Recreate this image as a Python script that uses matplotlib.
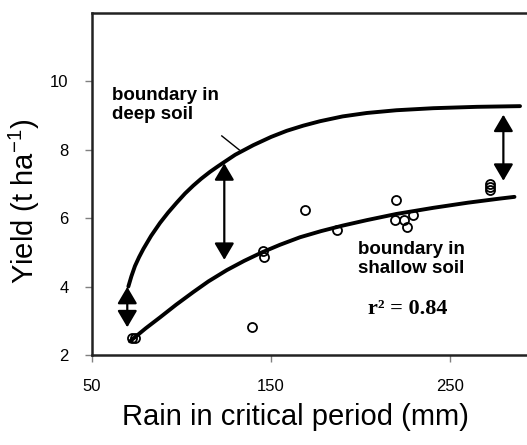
import matplotlib
matplotlib.use("Agg")
import matplotlib.pyplot as plt
from matplotlib.patches import FancyArrowPatch

plt.rcParams['font.family'] = ['Liberation Sans', 'DejaVu Sans']
plt.rcParams['mathtext.fontset'] = 'custom'
plt.rcParams['mathtext.rm'] = 'Liberation Sans'

# boundary curves
deep_x = [70.3, 72, 74, 76.3, 78.7, 83, 88, 92.5, 97.3, 102, 106.6, 111, 115.9, 120, 123.4, 130, 140.1,
          150, 158.8, 168, 177.4, 190, 203.5, 220, 240.7, 265, 289.1]
deep_y = [4.0, 4.3, 4.6, 4.86, 5.1, 5.48, 5.86, 6.16, 6.45, 6.72, 6.95, 7.15, 7.35, 7.5, 7.62, 7.85, 8.13,
          8.37, 8.55, 8.7, 8.83, 8.97, 9.07, 9.15, 9.21, 9.25, 9.27]
shallow_x = [71.2, 80, 88, 97, 106.6, 115, 125.3, 135, 145, 155, 166.2, 178, 190, 203.5, 220,
             240.7, 260, 277.9, 286]
shallow_y = [2.4, 2.78, 3.1, 3.47, 3.84, 4.15, 4.48, 4.75, 5.0, 5.22, 5.44, 5.62, 5.78, 5.94, 6.12,
             6.3, 6.45, 6.57, 6.62]

# observations
obs_x = [72.2, 74.0, 139.2, 145.7, 146.1, 169.0, 186.7, 219.7, 219.3, 224.3, 229.5, 225.8, 272.3, 272.3, 272.3]
obs_y = [2.5, 2.5, 2.82, 5.05, 4.85, 6.25, 5.66, 6.52, 5.93, 5.95, 6.08, 5.74, 7.01, 6.9, 6.81]

# yield gap arrows: x, bottom, top
gap_x = [69.7, 123.9, 279.8]
gap_lo = [2.81, 4.78, 7.09]
gap_hi = [3.99, 7.6, 9.02]

fig = plt.figure(figsize=(5.27, 4.45), dpi=100)
ax = fig.add_axes([0.1746, 0.2022, 0.8254, 0.7693])

ax.plot(deep_x, deep_y, color='black', lw=2.8, solid_capstyle='round', solid_joinstyle='round')
ax.plot(shallow_x, shallow_y, color='black', lw=2.8, solid_capstyle='round', solid_joinstyle='round')
ax.plot(obs_x, obs_y, 'o', mfc='none', mec='black', ms=6.5, mew=1.3)

for x, lo, hi in zip(gap_x, gap_lo, gap_hi):
    arr = FancyArrowPatch((x, lo), (x, hi), arrowstyle='<|-|>,head_length=0.85,head_width=0.5',
                          mutation_scale=12, color='black', lw=1.6, shrinkA=0, shrinkB=0)
    ax.add_patch(arr)

# leader line from label to the deep-soil curve
ax.plot([122.5, 132.3], [8.4, 7.99], color='black', lw=1)

ax.text(61, 9.84, 'boundary in\ndeep soil', fontsize=13.5, fontweight='bold', va='top', ha='left', linespacing=1.15)
ax.text(198.6, 5.34, 'boundary in\nshallow soil', fontsize=13.5, fontweight='bold', va='top', ha='left', linespacing=1.15)
ax.text(226.3, 3.34, 'r² = 0.84', fontsize=16, fontweight='bold', family='Liberation Serif', ha='center', va='center')

ax.set_xlim(50, 293)
ax.set_ylim(2, 12)
ax.set_xticks([50, 150, 250])
ax.set_yticks([2, 4, 6, 8, 10])
ax.tick_params(axis='both', labelsize=12, length=5, width=1, color='gray', pad=12, direction='out')
ax.spines['right'].set_visible(False)
for s in ['left', 'top', 'bottom']:
    ax.spines[s].set_linewidth(1.8)
    ax.spines[s].set_color('#222222')

fig.text(0.56, 0.063, 'Rain in critical period (mm)', fontsize=21, ha='center', va='center')
fig.text(0.047, 0.547, 'Yield (t ha$^{-1}$)', fontsize=21, ha='center', va='center', rotation=90)

fig.savefig('out.png', dpi=100)
